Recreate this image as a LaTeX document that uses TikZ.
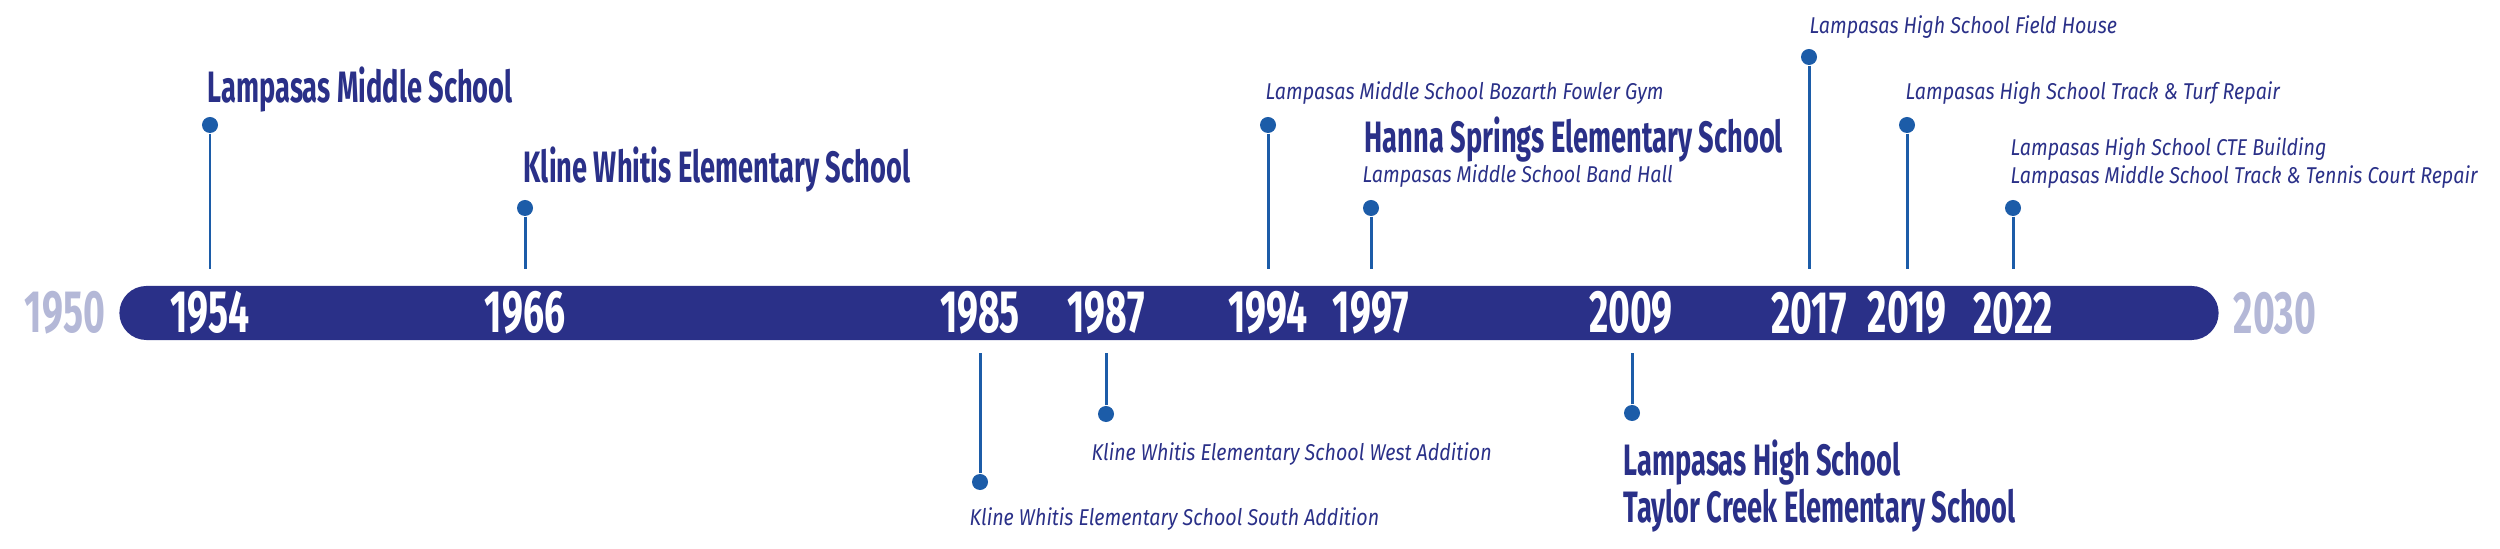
\documentclass[tikz,border=0pt]{standalone}
\usepackage{fontspec}
\setmainfont{Fira Sans}
\newfontfamily\headfont{Fira Sans}[FakeStretch=0.62]
\newfontfamily\yearfont{Fira Sans}[FakeStretch=0.625]
\newfontfamily\notefont{Fira Sans}[FakeStretch=0.86]
\usepackage{tikz}
\usetikzlibrary{positioning}

\definecolor{navy}{RGB}{42,48,136}
\definecolor{dotblue}{RGB}{28,92,168}
\definecolor{paleblue}{RGB}{180,184,215}

\begin{document}
\begin{tikzpicture}[
    x=0.01cm, y=-0.01cm,
    year/.style={font=\yearfont\bfseries\fontsize{17}{18}\selectfont, text=white, inner sep=0pt},
    endyear/.style={year, text=paleblue},
    dot/.style={circle, fill=dotblue, inner sep=0pt, minimum size=0.16cm},
    stem/.style={draw=dotblue, line width=0.85pt},
    big/.style={font=\headfont\bfseries\fontsize{12.5}{13.4}\selectfont, text=navy, inner sep=0pt, align=left},
    small/.style={font=\notefont\itshape\fontsize{6.5}{8}\selectfont, text=navy, inner sep=0pt, align=left}
]
\useasboundingbox (0,0) rectangle (2500,549);

% the bar
\node[fill=navy, rounded corners=0.27cm, minimum width=20.98cm, minimum height=0.54cm, inner sep=0pt] (bar) at (1169,313) {};

% years
\node[endyear] (y1950) at (65,313) {1950};
\node[year] (y1954) at (210,313) {1954};
\node[year] (y1966) at (525,313) {1966};
\node[year] (y1985) at (980,313) {1985};
\node[year] (y1987) at (1106,313) {1987};
\node[year] (y1994) at (1268,313) {1994};
\node[year] (y1997) at (1371,313) {1997};
\node[year] (y2009) at (1631,313) {2009};
\node[year] (y2017) at (1809,313) {2017};
\node[year] (y2019) at (1907,313) {2019};
\node[year] (y2022) at (2013,313) {2022};
\node[endyear] (y2030) at (2275,313) {2030};

% dots above the bar
\node[dot] (d1954) at (210,125) {};
\node[dot] (d1966) at (525,208) {};
\node[dot] (d1994) at (1268,125) {};
\node[dot] (d1997) at (1371,208) {};
\node[dot] (d2017) at (1809,57) {};
\node[dot] (d2019) at (1907,125) {};
\node[dot] (d2022) at (2013,208) {};

% dots below the bar
\node[dot] (d1985) at (980,482) {};
\node[dot] (d1987) at (1106,414) {};
\node[dot] (d2009) at (1632,413) {};

% stems
\draw[stem, shorten >=0.16cm] (d1954) -- (d1954 |- bar.north);
\draw[stem, shorten >=0.16cm] (d1966) -- (d1966 |- bar.north);
\draw[stem, shorten >=0.16cm] (d1994) -- (d1994 |- bar.north);
\draw[stem, shorten >=0.16cm] (d1997) -- (d1997 |- bar.north);
\draw[stem, shorten >=0.16cm] (d2017) -- (d2017 |- bar.north);
\draw[stem, shorten >=0.16cm] (d2019) -- (d2019 |- bar.north);
\draw[stem, shorten >=0.16cm] (d2022) -- (d2022 |- bar.north);
\draw[stem, shorten >=0.12cm] (d1985) -- (d1985 |- bar.south);
\draw[stem, shorten >=0.12cm] (d1987) -- (d1987 |- bar.south);
\draw[stem, shorten >=0.12cm] (d2009) -- (d2009 |- bar.south);

% labels above
\node[big, above right=0.14cm and -0.03cm of d1954.north, anchor=base west] (l1954) {Lampasas Middle School};
\node[big, above right=0.17cm and -0.02cm of d1966.north, anchor=base west] (l1966) {Kline Whitis Elementary School};
\node[small, above right=0.17cm and -0.03cm of d1994.north, anchor=base west] (l1994) {Lampasas Middle School Bozarth Fowler Gym};
\node[small, above right=0.17cm and -0.09cm of d1997.north, anchor=base west] (l1997b) {Lampasas Middle School Band Hall};
\node[big, above right=0.3cm and 0.02cm of l1997b.base west, anchor=base west] (l1997a) {Hanna Springs Elementary School};
\node[small, above right=0.15cm and 0cm of d2017.north, anchor=base west] (l2017) {Lampasas High School Field House};
\node[small, above right=0.17cm and -0.02cm of d2019.north, anchor=base west] (l2019) {Lampasas High School Track \& Turf Repair};
\node[small, above right=0.1cm and -0.03cm of d2022.north] (l2022) {Lampasas High School CTE Building\\Lampasas Middle School Track \& Tennis Court Repair};

% labels below
\node[small, below right=0.16cm and -0.11cm of d1985.south] (l1985) {Kline Whitis Elementary School South Addition};
\node[small, below right=0.19cm and -0.15cm of d1987.south] (l1987) {Kline Whitis Elementary School West Addition};
\node[big, below right=0.17cm and -0.09cm of d2009.south] (l2009) {Lampasas High School\\Taylor Creek Elementary School};

\end{tikzpicture}
\end{document}
